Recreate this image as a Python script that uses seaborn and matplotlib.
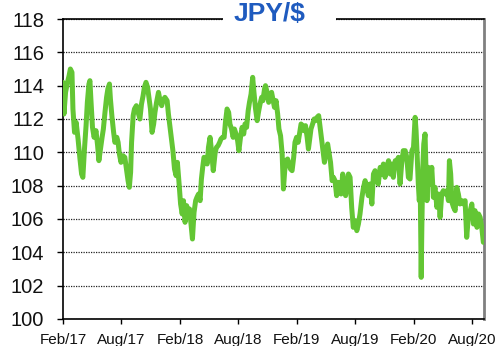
import pandas as pd
import matplotlib
matplotlib.use("Agg")
import matplotlib.pyplot as plt
import matplotlib.dates as mdates
from matplotlib.patches import Rectangle
import seaborn as sns

# Yen per US dollar, observations counted in days from the start date
start_date = "2017-02-01"
end_date = "2020-09-07"

days_since_start = [
    0, 3, 8, 14, 19, 23, 28, 31, 36, 41, 47, 53, 58, 62, 67, 72, 76, 81, 84, 87,
    92, 97, 103, 108, 112, 117, 122, 126, 131, 136, 140, 145, 148, 153, 158, 162,
    168, 172, 176, 181, 187, 193, 198, 203, 207, 211, 214, 219,
    223, 229, 236, 240, 245, 250, 254, 259, 264, 268, 273, 278, 283, 287, 292,
    298, 303, 308, 312, 318, 325, 329, 334, 339, 343, 348, 353, 357, 362, 367,
    372, 376, 381, 386, 390, 395, 400, 404, 409, 414, 418, 423, 428,
    432, 436, 440, 445, 450, 454, 459, 464, 469, 475, 479, 484, 489, 493, 498,
    503, 507, 512, 517, 521, 526, 531, 535, 540, 545, 549, 554, 559, 564, 568,
    573, 578, 582, 587, 592, 596, 601, 606, 610, 615, 620, 624, 629, 632, 637,
    642, 646, 651, 656, 660,
    665, 670, 674, 679, 684, 688, 692, 696, 701, 706, 710, 715, 720, 724, 729,
    734, 738, 743, 748, 752, 757, 762, 766, 770, 774, 779, 784, 788, 793, 798,
    802, 807, 812, 816, 821, 826, 830, 835, 840, 844, 849, 854, 859, 863, 868,
    873, 877, 882,
    887, 891, 896, 901, 906, 912, 917, 922, 927, 933, 938, 943, 948, 953, 958,
    964, 969, 974, 979, 984, 990, 995, 1000, 1005, 1011, 1016, 1021, 1026, 1031,
    1037, 1042, 1047, 1052, 1057, 1062, 1068, 1073, 1078, 1083,
    1089, 1094, 1099, 1102, 1105, 1109, 1112, 1115, 1118, 1120, 1123, 1126, 1130,
    1133, 1136, 1140, 1146, 1151, 1156, 1161, 1167, 1172, 1177, 1182, 1187, 1193,
    1198, 1203, 1206, 1210, 1214, 1219, 1224, 1229, 1234, 1239, 1245, 1250, 1255,
    1260, 1265, 1271, 1276, 1281, 1286, 1292, 1297, 1302, 1307, 1312,
]

jpy_per_usd = [
    114.2, 112.3, 113.6, 114.2, 114.6, 115.0, 114.8, 112.6, 111.2, 111.8, 110.8,
    109.6, 108.7, 108.5, 110.2, 111.6, 113.0, 114.1, 114.3, 113.2, 111.5, 110.9,
    111.3, 110.4, 109.5, 110.2, 110.9, 111.4, 112.4, 113.3, 113.8, 114.1, 113.2,
    112.1, 111.2, 110.6, 110.9, 110.6, 109.9, 109.4, 109.8, 109.7, 109.0, 108.3,
    107.9, 108.8, 110.6, 112.2,
    112.6, 112.8, 112.3, 112.0, 112.9, 113.4, 113.9, 114.2, 113.9, 113.3, 112.6,
    111.2, 111.7, 112.4, 113.0, 113.6, 113.1, 112.8, 113.1, 113.3, 113.1, 112.3,
    111.5, 110.7, 110.1, 109.0, 108.6, 109.4, 108.2, 106.9, 106.3, 107.1, 105.8,
    106.8, 106.2, 106.6, 105.6, 104.8, 106.4, 107.1, 107.3, 107.5, 107.1,
    108.4, 109.1, 109.7, 109.6, 109.3, 110.3, 110.9, 110.0, 108.9, 110.0, 110.3,
    110.4, 110.6, 110.8, 110.9, 110.9, 111.8, 112.6, 112.4, 111.7, 111.4, 110.9,
    111.4, 111.1, 110.7, 110.1, 110.9, 111.5, 111.1, 111.7, 111.5, 112.5, 113.0,
    113.5, 114.5, 113.6, 112.6, 111.9, 112.4, 112.9, 113.3, 113.1, 113.8, 114.0,
    113.6, 113.0, 113.2, 113.6, 113.1, 112.7,
    113.1, 112.3, 111.4, 111.0, 109.9, 107.8, 108.9, 109.5, 109.6, 109.3, 109.0,
    108.9, 109.7, 110.6, 110.9, 110.6, 111.1, 111.7, 111.6, 111.3, 111.6, 110.9,
    110.2, 110.8, 111.4, 111.7, 112.0, 111.9, 112.1, 112.2, 111.6, 110.8, 110.0,
    109.4, 110.1, 110.5, 110.0, 109.4, 108.3, 108.5, 108.3, 107.4, 108.2, 108.0,
    107.5, 108.7, 108.2, 107.4,
    108.0, 108.7, 108.5, 106.7, 105.5, 105.9, 105.3, 105.7, 106.3, 107.3, 107.9,
    108.3, 107.9, 107.4, 108.1, 106.9, 108.7, 108.9, 108.5, 108.1, 109.1, 108.7,
    109.3, 108.5, 109.1, 109.5, 108.7, 109.3, 108.5, 109.5, 109.5, 109.7, 108.1,
    109.3, 110.1, 110.1, 109.7, 108.5, 108.4,
    110.1, 110.3, 112.1, 111.3, 110.0, 108.1, 107.1, 107.9, 102.5, 105.5, 109.1,
    110.5, 111.1, 108.9, 107.1, 109.1, 108.1, 109.1, 107.3, 107.9, 106.7, 107.5,
    106.1, 107.5, 107.7, 107.5, 107.7, 107.1, 109.5, 108.7, 107.0, 106.7, 106.5,
    107.9, 107.5, 106.9, 107.1, 106.9, 107.1, 104.9, 106.1, 106.5, 106.9, 105.7,
    106.5, 105.5, 106.3, 106.1, 105.5, 104.6,
]

y_ticks = [100, 102, 104, 106, 108, 110, 112, 114, 116, 118]
x_tick_dates = ["2017-02-01", "2017-08-01", "2018-02-01", "2018-08-01",
                "2019-02-01", "2019-08-01", "2020-02-01", "2020-08-01"]
title_text = "JPY/$"

sns.set_style("white")
plt.rcParams["font.family"] = ["Liberation Sans", "DejaVu Sans"]

df = pd.DataFrame({
    "date": pd.Timestamp(start_date) + pd.to_timedelta(days_since_start, unit="D"),
    "rate": jpy_per_usd,
})

W, H = 495, 346
fig = plt.figure(figsize=(W / 100, H / 100), dpi=100)
ax = fig.add_axes([63 / W, 1 - 319 / H, 421 / W, 300 / H])

sns.lineplot(data=df, x="date", y="rate", ax=ax, color="#63C634",
             linewidth=3.6, solid_joinstyle="round", solid_capstyle="round",
             zorder=3)

ax.set_ylim(y_ticks[0], y_ticks[-1])
ax.set_yticks(y_ticks)
ax.set_xlim(pd.Timestamp(start_date), pd.Timestamp(end_date))
ax.set_xticks(pd.to_datetime(x_tick_dates))
ax.xaxis.set_major_formatter(mdates.DateFormatter("%b/%y"))
ax.set_xlabel("")
ax.set_ylabel("")

ax.yaxis.grid(True, color="#222222", linestyle=(0, (1.0, 1.0)), linewidth=0.9)
ax.xaxis.grid(False)
ax.set_axisbelow(True)

for side in ("left", "bottom", "top"):
    ax.spines[side].set_color("black")
    ax.spines[side].set_linewidth(1.2)
ax.spines["right"].set_color("#808080")
ax.spines["right"].set_linewidth(2.0)

ax.tick_params(axis="y", direction="out", length=4.5, width=1, pad=9,
               labelsize=14.5, color="black", labelcolor="#111111", left=True)
ax.tick_params(axis="x", direction="out", length=3.8, width=1, pad=6.5,
               labelsize=11, color="black", labelcolor="#111111", bottom=True)

# white band breaking the top border behind the title
fig.add_artist(Rectangle((223 / W, 1 - 25 / H), 113 / W, 14 / H,
                         transform=fig.transFigure, facecolor="white",
                         edgecolor="none", zorder=5))
fig.text(270 / W, 1 - 21 / H, title_text, ha="center", va="baseline",
         fontsize=19, fontweight="bold", color="#1F5BBF", zorder=6)

fig.savefig("out.png", dpi=100)
